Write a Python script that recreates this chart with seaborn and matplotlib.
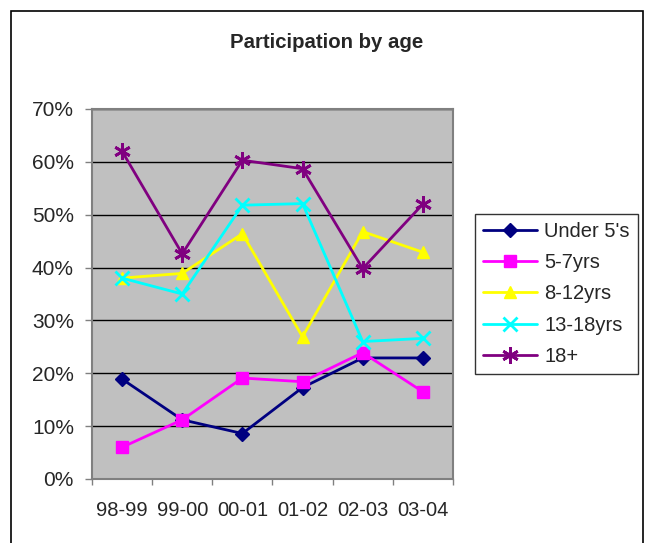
import matplotlib.pyplot as plt
import matplotlib.patches as mpatches
import seaborn as sns
import pandas as pd

# data
years = ['98-99', '99-00', '00-01', '01-02', '02-03', '03-04']
under5 = [18.9, 11.2, 8.6, 17.3, 22.9, 22.9]
yrs5_7 = [6.0, 11.2, 19.1, 18.4, 23.9, 16.5]
yrs8_12 = [38.0, 38.9, 46.4, 26.9, 46.8, 42.9]
yrs13_18 = [38.0, 35.0, 51.8, 52.1, 26.0, 26.6]
over18 = [62.0, 42.6, 60.3, 58.7, 39.8, 52.0]

groups = ["Under 5's", '5-7yrs', '8-12yrs', '13-18yrs', '18+']
series = [under5, yrs5_7, yrs8_12, yrs13_18, over18]
colors = ['#000080', '#FF00FF', '#FFFF00', '#00FFFF', '#800080']
markers = ['D', 's', '^', 'x', (6, 2, 0)]
msizes = [7, 9, 9, 10, 12]

rows = []
for g, vals in zip(groups, series):
    for y, v in zip(years, vals):
        rows.append({'year': y, 'group': g, 'value': v})
df = pd.DataFrame(rows)

sns.set_style('white')
plt.rcParams['font.family'] = ['Liberation Sans', 'DejaVu Sans']

fig = plt.figure(figsize=(6.46, 5.43), dpi=100)
ax = fig.add_axes([0.1424, 0.1179, 0.5587, 0.6814])
ax.set_facecolor('#C0C0C0')

for g, c, m, ms in zip(groups, colors, markers, msizes):
    sns.lineplot(data=df[df.group == g], x='year', y='value', color=c,
                 marker=m, markersize=ms, markeredgecolor=c,
                 markeredgewidth=2 if m in ('x', (6, 2, 0)) else 1,
                 linewidth=2, label=g, ax=ax, sort=False)

ax.set_xlim(-0.5, 5.5)
ax.set_ylim(0, 70)
ax.set_yticks(range(0, 71, 10))
ax.set_yticklabels([f'{t}%' for t in range(0, 71, 10)])
ax.set_xticks(range(6))
ax.set_xticklabels(years)
ax.set_xticks([i - 0.5 for i in range(7)], minor=True)
ax.tick_params(axis='x', which='major', length=0, labelsize=14.5, pad=16)
ax.tick_params(axis='x', which='minor', length=4.5, width=1, color='#808080',
               direction='out', bottom=True)
ax.tick_params(axis='y', length=5, width=1, color='#808080',
               direction='out', left=True, labelsize=15, pad=8)
ax.set_xlabel('')
ax.set_ylabel('')
ax.grid(axis='y', color='black', linewidth=1)
ax.set_axisbelow(True)
for s in ax.spines.values():
    s.set_color('#808080')
    s.set_linewidth(1.5)

fig.text(0.506, 0.922, 'Participation by age', ha='center', va='center',
         fontsize=14.7, fontweight='bold')

leg = ax.legend(loc='center left', bbox_to_anchor=(1.06, 0.5), fontsize=14.5,
                frameon=True, fancybox=False, handlelength=2.7,
                labelspacing=0.6, borderpad=0.4, handletextpad=0.35,
                borderaxespad=0)
leg.get_frame().set_edgecolor('black')
leg.get_frame().set_linewidth(1)

# outer chart border
fig.patches.append(mpatches.Rectangle((10.5 / 646, -0.05), 632.5 / 646, 1 - 11 / 543 + 0.05,
                                      transform=fig.transFigure, fill=False,
                                      edgecolor='black', linewidth=1.2))

fig.savefig('out.png', dpi=100)
